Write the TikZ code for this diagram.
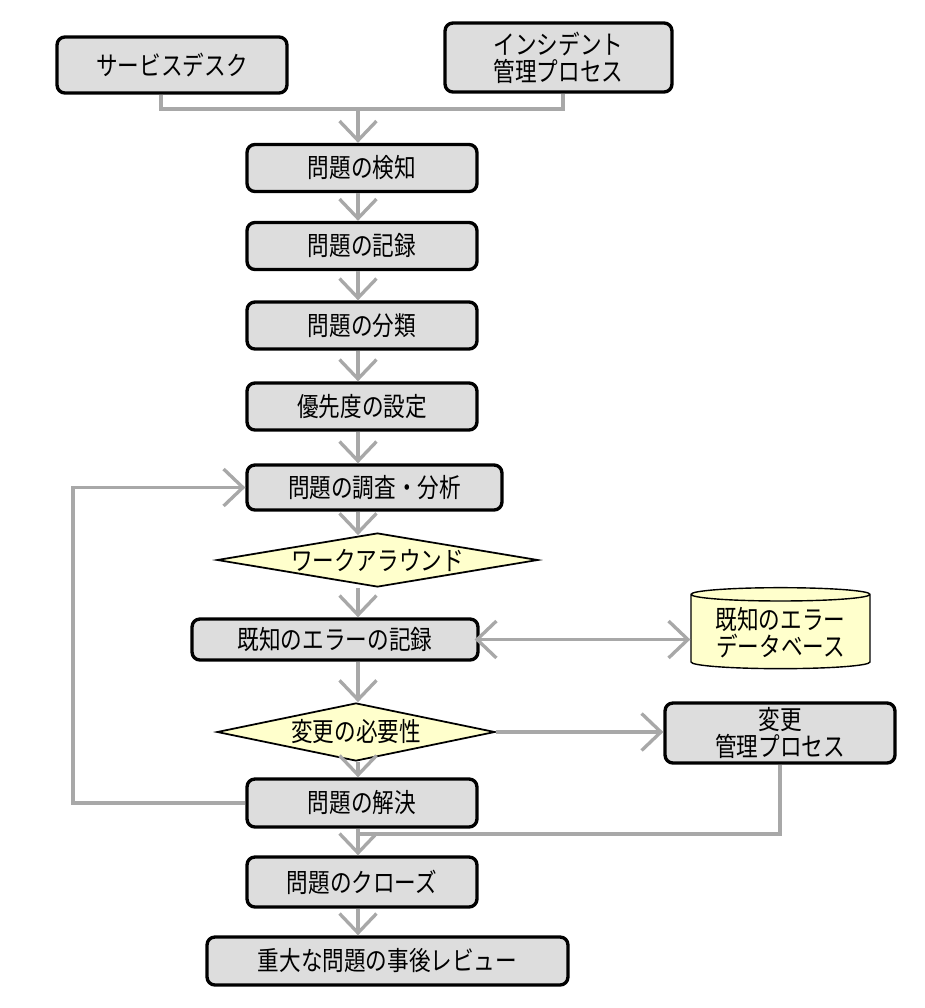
\documentclass[tikz,border=0pt]{standalone}
\usepackage{fontspec}
\setmainfont{Noto Sans CJK JP}[FakeStretch=0.82]
\usetikzlibrary{arrows.meta,shapes.geometric}
\definecolor{boxgray}{HTML}{DDDDDD}
\definecolor{noteyellow}{HTML}{FFFFCC}
\definecolor{linegray}{HTML}{A8A8A8}
\tikzset{
  procbox/.style={draw, line width=1.9pt, rounded corners=4.5pt, fill=boxgray,
    minimum width=4.6cm, minimum height=0.94cm, align=center, inner sep=2pt,
    font=\fontsize{15pt}{15.5pt}\selectfont},
  decision/.style={diamond, draw, line width=1pt, fill=noteyellow, inner sep=0pt,
    font=\fontsize{15pt}{15.5pt}\selectfont},
  link/.style={draw=linegray, line width=1.9pt},
  flow/.style={link, -{Straight Barb[length=11pt,width=21pt]}},
  biflow/.style={link, {Straight Barb[length=11pt,width=21pt]}-{Straight Barb[length=11pt,width=21pt]}},
}
\begin{document}
\begin{tikzpicture}[x=0.02cm, y=-0.02cm]
    \useasboundingbox (0,0) rectangle (924,1008);
    % inputs
    \node[procbox, minimum height=1.12cm] (sd) at (172,65) {サービスデスク};
    \node[procbox, minimum width=4.54cm, minimum height=1.38cm] (inc) at (558.5,57.5) {インシデント\\管理プロセス};
    % main column
    \node[procbox] (detect) at (362,168) {問題の検知};
    \node[procbox] (rec) at (362,246) {問題の記録};
    \node[procbox] (cls) at (362,325.5) {問題の分類};
    \node[procbox] (prio) at (362,406.5) {優先度の設定};
    \node[procbox, minimum width=5.1cm, minimum height=0.9cm] (inv) at (374.5,487.5) {問題の調査・分析};
    \node[decision, aspect=5.9, minimum width=6.42cm, minimum height=1.08cm] (wa) at (377.5,560) {ワークアラウンド};
    \node[procbox, minimum width=5.72cm, minimum height=0.82cm] (kerec) at (335,639.5) {既知のエラーの記録};
    \node[decision, aspect=4.8, minimum width=5.56cm, minimum height=1.16cm] (chg) at (356,732) {変更の必要性};
    \node[procbox, minimum height=0.96cm] (res) at (362,803) {問題の解決};
    \node[procbox, minimum height=1cm] (close) at (362,882) {問題のクローズ};
    \node[procbox, minimum width=7.22cm, minimum height=0.96cm] (review) at (387.5,961) {重大な問題の事後レビュー};
    % side nodes
    \node[cylinder, shape border rotate=90, aspect=0.1, draw, line width=0.8pt, fill=noteyellow,
      minimum width=3.58cm, minimum height=1.62cm, align=center, inner sep=1pt,
      font=\fontsize{15pt}{15.5pt}\selectfont] (kedb) at (780.5,632.5) {既知のエラー\\データベース};
    \node[procbox, minimum height=1.2cm] (cmp) at (780,733) {変更\\管理プロセス};
    % helper points
    \coordinate (axis) at (358,0);
    \coordinate (top) at (358,109);
    \coordinate (bottom) at (358,834);
    \coordinate (loopx) at (73,0);
    % joining lines
    \draw[link] ([xshift=-0.22cm]sd.south) |- (top) -| ([xshift=0.09cm]inc.south);
    \draw[link] (cmp.south) |- (bottom);
    % column arrows
    \draw[flow] (top) -- (detect.north -| axis);
    \draw[flow] (detect.south -| axis) -- (rec.north -| axis);
    \draw[flow] (rec.south -| axis) -- (cls.north -| axis);
    \draw[flow] (cls.south -| axis) -- (prio.north -| axis);
    \draw[flow] (prio.south -| axis) -- (inv.north -| axis);
    \draw[flow] (inv.south -| axis) -- ([yshift=-0.06cm]wa.north -| axis);
    \draw[flow] (wa.south -| axis) -- (kerec.north -| axis);
    \draw[flow] (kerec.south -| axis) -- (chg.north -| axis);
    \draw[flow] (chg.south -| axis) -- (res.north -| axis);
    \draw[flow] (res.south -| axis) -- (close.north -| axis);
    \draw[flow] (close.south -| axis) -- (review.north -| axis);
    % side arrows
    \draw[biflow] ([xshift=-0.1cm]kerec.east) -- (kerec.east -| kedb.west);
    \draw[flow] (chg.east) -- (chg.east -| cmp.west);
    % loop back
    \draw[flow] (res.west) -- (res.west -| loopx) -- (inv.west -| loopx) -- (inv.west);
\end{tikzpicture}
\end{document}
